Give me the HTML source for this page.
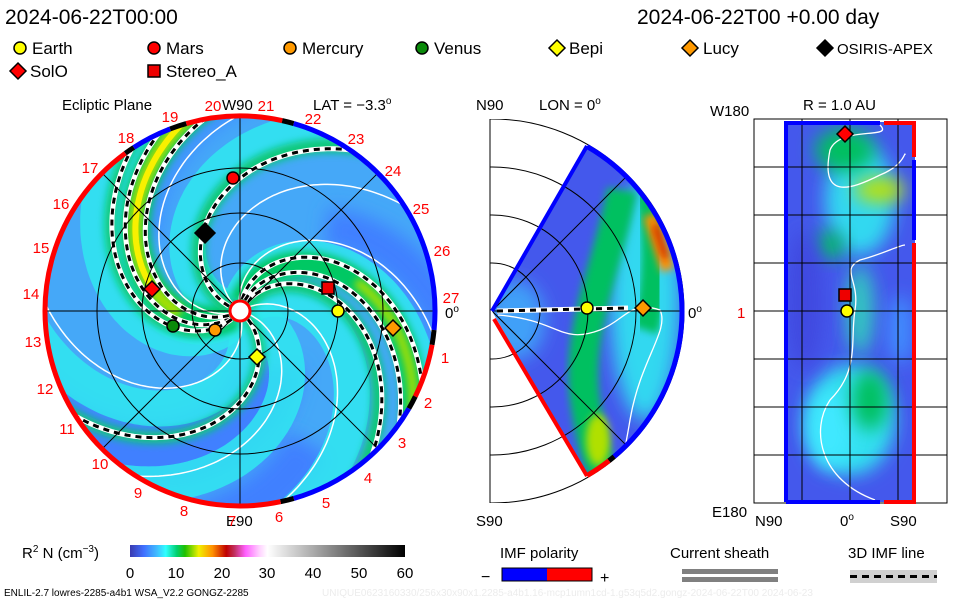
<!DOCTYPE html>
<html><head><meta charset="utf-8"><style>
body{margin:0;background:#fff;}
svg{display:block;font-family:"Liberation Sans",sans-serif;}
</style></head><body>
<svg id="s" width="960" height="600" viewBox="0 0 960 600" xmlns="http://www.w3.org/2000/svg">
<defs>
<clipPath id="cL"><circle cx="240" cy="311" r="194"/></clipPath>
<clipPath id="cM"><path d="M492,311 L587,146 A190,190 0 0 1 587,476 Z"/></clipPath>
<clipPath id="cR"><rect x="785" y="122" width="130" height="380"/></clipPath>
<clipPath id="cMb"><rect x="490" y="119" width="260" height="384"/></clipPath>
<filter id="bl" x="-50%" y="-50%" width="200%" height="200%"><feGaussianBlur stdDeviation="9"/></filter>
<filter id="bl2" x="-50%" y="-50%" width="200%" height="200%"><feGaussianBlur stdDeviation="4"/></filter>
<linearGradient id="cb" x1="0" x2="1" y1="0" y2="0">
<stop offset="0" stop-color="#3a3ab0"/><stop offset="0.05" stop-color="#4070ff"/>
<stop offset="0.1" stop-color="#40c0ff"/><stop offset="0.13" stop-color="#30ffff"/>
<stop offset="0.17" stop-color="#00d070"/><stop offset="0.2" stop-color="#20c000"/>
<stop offset="0.25" stop-color="#f0f000"/><stop offset="0.3" stop-color="#ff9000"/>
<stop offset="0.35" stop-color="#c00000"/><stop offset="0.38" stop-color="#c03060"/>
<stop offset="0.42" stop-color="#ff60ff"/><stop offset="0.47" stop-color="#ffd0ff"/>
<stop offset="0.5" stop-color="#ffffff"/><stop offset="1" stop-color="#000000"/>
</linearGradient>
</defs>
<g id="gL" clip-path="url(#cL)"><circle cx="240" cy="311" r="194" fill="#45a8f8"/></g>
<g id="gLo"></g>
<g id="gM"></g>
<g id="gR"></g>
<g font-size="17" fill="#000">
<text x="5" y="24" font-size="21">2024-06-22T00:00</text>
<text x="637" y="24" font-size="21">2024-06-22T00 +0.00 day</text>
<text x="32" y="54">Earth</text><text x="166" y="54">Mars</text><text x="302" y="54">Mercury</text>
<text x="434" y="54">Venus</text><text x="569" y="54">Bepi</text><text x="703" y="54">Lucy</text>
<text x="837" y="54" font-size="15">OSIRIS-APEX</text>
<text x="30" y="77">SolO</text><text x="166" y="77">Stereo_A</text>
<text x="62" y="110" font-size="15">Ecliptic Plane</text>
<text x="222" y="110" font-size="15">W90</text>
<text x="313" y="110" font-size="15">LAT = −3.3<tspan font-size="10" dy="-6">o</tspan></text>
<text x="226" y="526" font-size="15">E90</text>
<text x="445" y="318" font-size="15">0<tspan font-size="10" dy="-6">o</tspan></text>
<text x="476" y="110" font-size="15">N90</text>
<text x="539" y="110" font-size="15">LON = 0<tspan font-size="10" dy="-6">o</tspan></text>
<text x="476" y="526" font-size="15">S90</text>
<text x="688" y="318" font-size="15">0<tspan font-size="10" dy="-6">o</tspan></text>
<text x="710" y="116" font-size="15">W180</text>
<text x="803" y="110" font-size="15">R = 1.0 AU</text>
<text x="712" y="517" font-size="15">E180</text>
<text x="755" y="526" font-size="15">N90</text>
<text x="840" y="526" font-size="15">0<tspan font-size="10" dy="-6">o</tspan></text>
<text x="890" y="526" font-size="15">S90</text>
<text x="737" y="318" font-size="15" fill="#e00">1</text>
<text x="22" y="558" font-size="15">R<tspan font-size="10" dy="-6">2</tspan><tspan dy="6"> N (cm</tspan><tspan font-size="10" dy="-6">−3</tspan><tspan dy="6">)</tspan></text>
<text x="500" y="558" font-size="15">IMF polarity</text>
<text x="670" y="558" font-size="15">Current sheath</text>
<text x="848" y="558" font-size="15">3D IMF line</text>
<text x="481" y="582" font-size="16">−</text><text x="600" y="583" font-size="16">+</text>
<text x="4" y="596" font-size="10">ENLIL-2.7 lowres-2285-a4b1 WSA_V2.2 GONGZ-2285</text>
<text x="322" y="596" font-size="10" fill="#ececec">UNIQUE0623160330/256x30x90x1.2285-a4b1.16-mcp1umn1cd-1.g53q5d2.gongz-2024-06-22T00   2024-06-23</text>
</g>
<g font-size="15" fill="#f00" text-anchor="middle" id="nums"></g>
<rect x="130" y="545" width="275" height="12" fill="url(#cb)"/>
<g font-size="15" text-anchor="middle">
<text x="130" y="578">0</text><text x="176" y="578">10</text><text x="222" y="578">20</text><text x="267" y="578">30</text><text x="313" y="578">40</text><text x="359" y="578">50</text><text x="405" y="578">60</text>
</g>
<rect x="502" y="568" width="45" height="13" fill="#00f"/><rect x="547" y="568" width="45" height="13" fill="#f00"/>
<rect x="502" y="568" width="90" height="13" fill="none" stroke="#000"/>
<rect x="682" y="569" width="96" height="5" fill="#808080"/><rect x="682" y="577" width="96" height="5" fill="#808080"/>
<rect x="850" y="570" width="87" height="13" fill="#d0d0d0"/>
<line x1="850" y1="576.5" x2="937" y2="576.5" stroke="#000" stroke-width="3" stroke-dasharray="7 5"/>
</svg>
<script>
var NS="http://www.w3.org/2000/svg";
function el(p,t,a){var e=document.createElementNS(NS,t);for(var k in a)e.setAttribute(k,a[k]);p.appendChild(e);return e;}
var cx=240,cy=311;
function sp(f0,k,r0,r1){var s="";for(var r=r0;r<=r1;r+=2){var f=(f0+k*r)*Math.PI/180;s+=(s?"L":"M")+(cx+r*Math.cos(f)).toFixed(1)+","+(cy+r*Math.sin(f)).toFixed(1);}return s;}
var gL=document.getElementById("gL");
var K=0.55;
function band(f0,w,c,r0,o){el(gL,"path",{d:sp(f0,K,r0||8,260),fill:"none",stroke:c,"stroke-width":w,opacity:o||1});}
el(gL,"path",{d:sp(30,K,60,260),fill:"none",stroke:"#3f80ff","stroke-width":70,filter:"url(#bl)"});
el(gL,"path",{d:sp(-20,K,150,260),fill:"none",stroke:"#3f80ff","stroke-width":50,filter:"url(#bl)"});
el(gL,"path",{d:sp(-110,K,120,260),fill:"none",stroke:"#3f80ff","stroke-width":40,filter:"url(#bl)"});
el(gL,"path",{d:sp(150,K,120,260),fill:"none",stroke:"#3f90ff","stroke-width":40,filter:"url(#bl)"});
[-225,-175,-85,-40,10,60,120].forEach(function(f){band(f,36,"#30e8f0",10,0.85);});
[[-215,30,"#00c864"],[-80,26,"#00c864"],[-165,14,"#10c878"],[-58,14,"#10c878"],[40,12,"#10c878"],[128,12,"#10c878"]].forEach(function(a){el(gL,"path",{d:sp(a[0],K,8,260),fill:"none",stroke:a[2],"stroke-width":a[1],filter:"url(#bl2)"});});
el(gL,"path",{d:sp(-215,K,60,260),fill:"none",stroke:"#a8e000","stroke-width":14,filter:"url(#bl2)"});
el(gL,"path",{d:sp(-215,K,90,260),fill:"none",stroke:"#f8f000","stroke-width":6});
el(gL,"path",{d:sp(-80,K,120,260),fill:"none",stroke:"#a8e000","stroke-width":9,filter:"url(#bl2)"});
[-232,-198,-140,-100,-30,15,75].forEach(function(f){el(gL,"path",{d:sp(f,K,10,260),fill:"none",stroke:"#fff","stroke-width":1.5});});
function dash(g,d){el(g,"path",{d:d,fill:"none",stroke:"#fff","stroke-width":5});el(g,"path",{d:d,fill:"none",stroke:"#000","stroke-width":3,"stroke-dasharray":"6 5"});}
[-222,-208,-163,-60,-86,-72,40,129].forEach(function(f){dash(gL,sp(f,K,12,260));});
[48,98,143].forEach(function(r){el(gL,"circle",{cx:cx,cy:cy,r:r,fill:"none",stroke:"#000","stroke-width":1});});
[0,45,90,135].forEach(function(a){var f=a*Math.PI/180;el(gL,"line",{x1:cx-200*Math.cos(f),y1:cy-200*Math.sin(f),x2:cx+200*Math.cos(f),y2:cy+200*Math.sin(f),stroke:"#000","stroke-width":1});});
el(gL,"circle",{cx:cx,cy:cy,r:10,fill:"#fff",stroke:"#f00","stroke-width":3});
var gLo=document.getElementById("gLo");
function arc(g,x,y,r,a0,a1,c,w){var p0=[x+r*Math.cos(a0*Math.PI/180),y+r*Math.sin(a0*Math.PI/180)],p1=[x+r*Math.cos(a1*Math.PI/180),y+r*Math.sin(a1*Math.PI/180)];el(g,"path",{d:"M"+p0+"A"+r+","+r+" 0 "+((a1-a0)>180?1:0)+" 1 "+p1,fill:"none",stroke:c,"stroke-width":w});}
[[-106,-77.5,"#f00"],[-77.5,-74,"#000"],[-74,5.6,"#00f"],[5.6,10,"#000"],[10,26,"#f00"],[26,30,"#000"],[30,74,"#00f"],[74,78,"#000"],[78,234,"#f00"],[234,237,"#000"],[237,249,"#00f"],[249,254,"#000"]].forEach(function(a){arc(gLo,cx,cy,195,a[0],a[1],a[2],5);});
var nums=[[1,445,363],[2,428,408],[3,402,448],[4,368,483],[5,326,508],[6,279,522],[7,232,526],[8,184,516],[9,138,498],[10,100,469],[11,67,434],[12,45,394],[13,33,347],[14,31,299],[15,41,253],[16,61,209],[17,90,173],[18,126,143],[19,170,122],[20,213,111],[21,266,111],[22,313,124],[23,356,144],[24,393,176],[25,421,214],[26,442,256],[27,451,303]];
var gn=document.getElementById("nums");nums.forEach(function(n){var t=el(gn,"text",{x:n[1],y:n[2]});t.textContent=n[0];});
function circ(g,x,y,c,r){el(g,"circle",{cx:x,cy:y,r:r||6,fill:c,stroke:"#000","stroke-width":1.5});}
function dia(g,x,y,c,s){s=s||8;el(g,"path",{d:"M"+x+","+(y-s)+"L"+(x+s)+","+y+"L"+x+","+(y+s)+"L"+(x-s)+","+y+"Z",fill:c,stroke:"#000","stroke-width":1.5});}
function sq(g,x,y,c){el(g,"rect",{x:x-6,y:y-6,width:12,height:12,fill:c,stroke:"#000","stroke-width":1.5});}
circ(gLo,233,178,"#f00");dia(gLo,205,233,"#000",10);dia(gLo,152,289,"#f00");circ(gLo,173,326,"#0a8a0a");circ(gLo,215,330,"#f90");dia(gLo,257,357,"#ff0");sq(gLo,328,288,"#e00");circ(gLo,338,311,"#ff0");dia(gLo,393,328,"#f90");
circ(gLo,20,48,"#ff0");circ(gLo,154,48,"#f00");circ(gLo,290,48,"#f90");circ(gLo,422,48,"#0a8a0a");dia(gLo,557,48,"#ff0");dia(gLo,690,48,"#f90");dia(gLo,825,48,"#000");dia(gLo,18,71,"#f00");sq(gLo,154,71,"#e00");
var gM=document.getElementById("gM");
var gMb=el(gM,"g",{"clip-path":"url(#cMb)"});
[48,96,144,192].forEach(function(r){el(gMb,"circle",{cx:492,cy:311,r:r,fill:"none",stroke:"#000"});});
el(gM,"line",{x1:490,y1:119,x2:490,y2:503,stroke:"#000"});
var w=el(gM,"g",{"clip-path":"url(#cM)"});
el(w,"rect",{x:480,y:130,width:220,height:360,fill:"#4458ec"});
el(w,"ellipse",{cx:515,cy:320,rx:30,ry:40,fill:"#40a0f8",filter:"url(#bl)"});
el(w,"ellipse",{cx:645,cy:300,rx:35,ry:120,fill:"#30d8f0",filter:"url(#bl)"});
el(w,"path",{d:"M622,190 C610,260 575,330 585,400 C592,450 600,470 610,480",fill:"none",stroke:"#00c060","stroke-width":30,filter:"url(#bl2)"});
el(w,"path",{d:"M645,180 C660,230 655,300 645,330",fill:"none",stroke:"#00c060","stroke-width":26,filter:"url(#bl2)"});
el(w,"ellipse",{cx:598,cy:440,rx:12,ry:26,fill:"#b0e000",filter:"url(#bl2)"});
el(w,"path",{d:"M650,215 L668,270",stroke:"#ff9000","stroke-width":14,filter:"url(#bl2)"});
el(w,"path",{d:"M655,225 L666,258",stroke:"#c82000","stroke-width":6,filter:"url(#bl2)"});
el(w,"path",{d:"M498,315 C560,320 560,345 600,330 C625,320 630,300 660,310 C670,330 640,360 630,420 C625,450 620,470 620,470",fill:"none",stroke:"#fff","stroke-width":1.3});
[48,96,144].forEach(function(r){el(w,"circle",{cx:492,cy:311,r:r,fill:"none",stroke:"#000"});});
[-45,0,45].forEach(function(a){var f=a*Math.PI/180;el(w,"line",{x1:492,y1:311,x2:492+200*Math.cos(f),y2:311+200*Math.sin(f),stroke:"#000"});});
el(gM,"line",{x1:492,y1:311,x2:587,y2:146,stroke:"#00f","stroke-width":4});
arc(gM,492,311,190,-60,50,"#00f",5);arc(gM,492,311,190,50,52,"#000",5);arc(gM,492,311,190,52,60,"#f00",5);
el(gM,"line",{x1:494,y1:319,x2:587,y2:476,stroke:"#f00","stroke-width":4});
dash(gM,"M497,311 L628,308");
circ(gM,587,308,"#ff0");dia(gM,643,308,"#f90");
var gR=document.getElementById("gR");
var rp=el(gR,"g",{"clip-path":"url(#cR)"});
el(rp,"rect",{x:785,y:122,width:130,height:380,fill:"#4458ec"});
[[860,200,35,55,"#30d8f0"],[850,420,45,55,"#30e0f0"],[845,150,30,22,"#00c060"],[880,190,25,12,"#c0e000"],[830,245,14,14,"#00c060"],[860,310,14,45,"#30c8c0"],[830,430,22,38,"#40e8ff"],[870,400,18,30,"#00c060"],[900,330,12,35,"#3f90ff"],[805,300,18,70,"#4048e0"]].forEach(function(b){el(rp,"ellipse",{cx:b[0],cy:b[1],rx:b[2],ry:b[3],fill:b[4],filter:"url(#bl)"});});
el(rp,"path",{d:"M880,125 C895,140 840,125 830,150 C820,200 850,190 880,175 C905,165 905,150 905,155 M830,400 C860,370 850,340 855,310 C860,280 840,270 860,260 C880,255 900,245 905,245 M830,400 C810,430 820,480 875,500",fill:"none",stroke:"#fff","stroke-width":1.3});
[167,215,263,311,359,407,455].forEach(function(y){el(gR,"line",{x1:754,y1:y,x2:947,y2:y,stroke:"#000"});});
[802,850,898].forEach(function(x){el(gR,"line",{x1:x,y1:119,x2:x,y2:503,stroke:"#000"});});
el(gR,"rect",{x:754,y:119,width:193,height:384,fill:"none",stroke:"#000"});
el(gR,"path",{d:"M786,502 V123 H880",fill:"none",stroke:"#00f","stroke-width":4});
el(gR,"path",{d:"M884,123 H914 V157",fill:"none",stroke:"#f00","stroke-width":4});
el(gR,"path",{d:"M914,160 V240",fill:"none",stroke:"#00f","stroke-width":4});
el(gR,"path",{d:"M914,243 V502 H884",fill:"none",stroke:"#f00","stroke-width":4});
el(gR,"path",{d:"M880,502 H786",fill:"none",stroke:"#00f","stroke-width":4});
dia(gR,845,134,"#f00");sq(gR,845,295,"#e00");circ(gR,847,311,"#ff0");
</script>
</body></html>
